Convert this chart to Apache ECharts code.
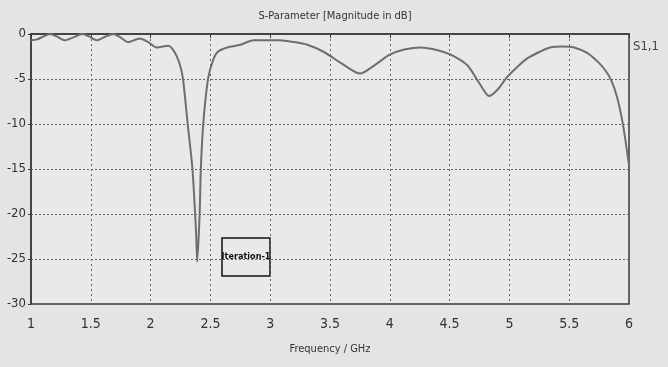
<!DOCTYPE html>
<html>
<head>
<meta charset="utf-8">
<script src="https://cdn.jsdelivr.net/npm/echarts@6/dist/echarts.min.js"></script>
<style>
html,body{margin:0;padding:0;background:#e4e4e2;}
#c{width:668px;height:367px;}
</style>
</head>
<body>
<div id="c"></div>
<script>
const freq = [1.0,1.05,1.1,1.16,1.22,1.28,1.35,1.43,1.49,1.55,1.62,1.69,1.75,1.81,1.91,1.98,2.05,2.15,2.2,2.24,2.27,2.31,2.35,2.38,2.39,2.41,2.42,2.44,2.48,2.52,2.56,2.64,2.75,2.86,3.0,3.08,3.2,3.31,3.45,3.6,3.75,3.88,4.0,4.13,4.26,4.4,4.51,4.65,4.75,4.83,4.9,4.98,5.07,5.15,5.25,5.34,5.45,5.54,5.65,5.74,5.8,5.85,5.9,5.95,6.0];
const s11 = [-0.7,-0.6,-0.3,0,-0.3,-0.7,-0.4,0,-0.3,-0.7,-0.3,0,-0.4,-0.9,-0.5,-0.9,-1.5,-1.3,-2.0,-3.2,-4.9,-10,-15,-22,-25.3,-20,-15,-10,-5,-3,-2,-1.5,-1.2,-0.7,-0.7,-0.7,-0.9,-1.2,-2,-3.3,-4.4,-3.4,-2.3,-1.7,-1.5,-1.8,-2.3,-3.5,-5.5,-6.9,-6.2,-4.8,-3.6,-2.7,-2.0,-1.5,-1.4,-1.5,-2.1,-3.1,-4.0,-5.1,-7,-10.1,-14.6];
const xTicks = [1,1.5,2,2.5,3,3.5,4,4.5,5,5.5,6];
const yTicks = [0,-5,-10,-15,-20,-25,-30];
const titleText = 'S-Parameter [Magnitude in dB]';
const xName = 'Frequency / GHz';
const seriesName = 'S1,1';
const noteText = 'Iteration-1';

const FONT = '"DejaVu Sans Condensed","Liberation Sans Narrow",sans-serif';
const chart = echarts.init(document.getElementById('c'));
chart.setOption({
  backgroundColor: '#e4e4e2',
  animation: false,
  title: {
    text: titleText, left: 330, top: 6, textAlign: 'center',
    textStyle: {fontFamily: FONT, fontSize: 11, fontWeight: 'normal', color: '#333'}
  },
  grid: {left: 31, right: 39, top: 34, bottom: 63, show: true,
    backgroundColor: '#e9e9e7', borderColor: '#3a3a3a', borderWidth: 1.5},
  xAxis: {
    type: 'value', min: 1, max: 6, interval: 0.5,
    name: xName, nameLocation: 'middle', nameGap: 40,
    nameTextStyle: {fontFamily: FONT, fontSize: 11, color: '#333'},
    axisLine: {show: true, lineStyle: {color: '#3a3a3a', width: 1.5}},
    axisTick: {show: true, length: 4, lineStyle: {color: '#3a3a3a'}},
    axisLabel: {fontFamily: FONT, fontSize: 14, color: '#333', margin: 13,
      formatter: v => xTicks.includes(v) ? String(v) : ''},
    splitLine: {show: true, lineStyle: {color: '#666', type: [2, 3], width: 1}}
  },
  yAxis: {
    type: 'value', min: -30, max: 0, interval: 5,
    axisLine: {show: true, lineStyle: {color: '#3a3a3a', width: 1.5}},
    axisTick: {show: true, length: 3, lineStyle: {color: '#3a3a3a'}},
    axisLabel: {fontFamily: FONT, fontSize: 13, color: '#333', margin: 5,
      formatter: v => yTicks.includes(v) ? String(v) : ''},
    splitLine: {show: true, lineStyle: {color: '#666', type: [2, 2], width: 1}}
  },
  series: [{
    name: seriesName, type: 'line', showSymbol: false, smooth: 0.25,
    data: freq.map((f, i) => [f, s11[i]]),
    lineStyle: {color: '#6e6e6e', width: 2}
  }],
  graphic: [
    {type: 'text', left: 633, top: 40, style: {text: seriesName, font: '13px ' + FONT, fill: '#444'}},
    {type: 'rect', shape: {x: 222, y: 238, width: 48, height: 38},
      style: {fill: 'rgba(0,0,0,0)', stroke: '#111', lineWidth: 1.5}},
    {type: 'text', x: 246, y: 257, style: {text: noteText, font: 'bold 9px ' + FONT, fill: '#111', align: 'center', verticalAlign: 'middle'}}
  ]
});
</script>
</body>
</html>
